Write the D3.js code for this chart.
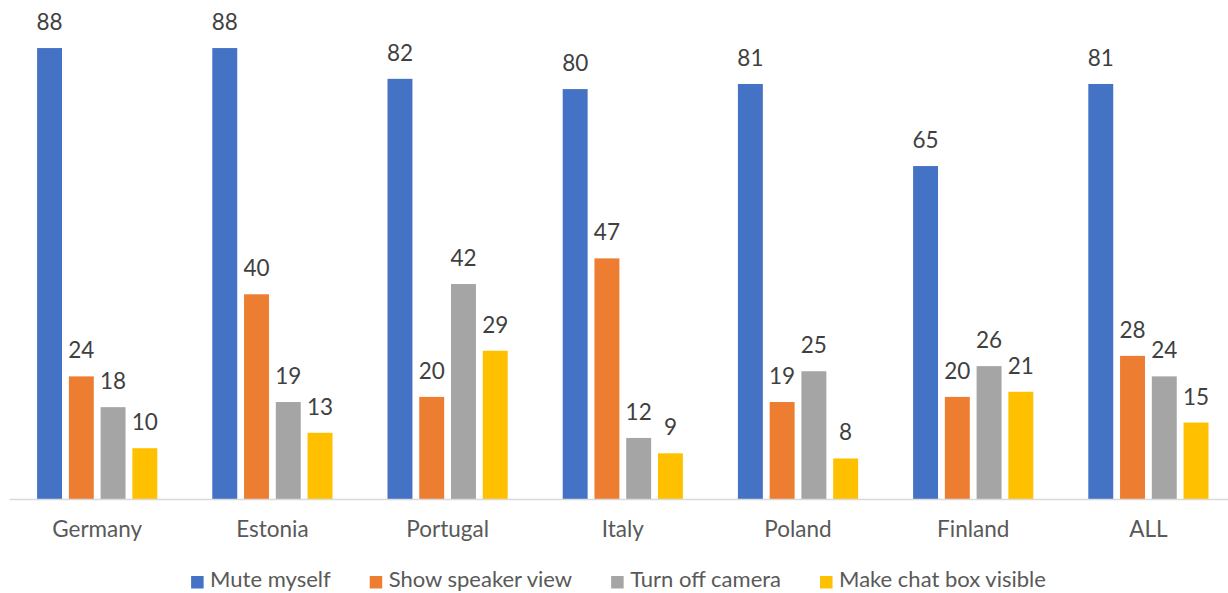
<!DOCTYPE html>
<html>
<head>
<meta charset="utf-8">
<script src="https://cdn.jsdelivr.net/npm/d3@7"></script>
<style>
  html, body { margin: 0; padding: 0; background: #fff; }
  svg { display: block; }
  text { font-family: Lato, "Open Sans", sans-serif; }
</style>
</head>
<body>
<svg id="chart" width="1228" height="593"></svg>
<script>
const categories = ["Germany", "Estonia", "Portugal", "Italy", "Poland", "Finland", "ALL"];
const seriesNames = ["Mute myself", "Show speaker view", "Turn off camera", "Make chat box visible"];
const muteMyself = [88, 88, 82, 80, 81, 65, 81];
const showSpeakerView = [24, 40, 20, 47, 19, 20, 28];
const turnOffCamera = [18, 19, 42, 12, 25, 26, 24];
const makeChatBoxVisible = [10, 13, 29, 9, 8, 21, 15];
const seriesValues = [muteMyself, showSpeakerView, turnOffCamera, makeChatBoxVisible];
const colors = ["#4472C4", "#ED7D31", "#A5A5A5", "#FFC000"];

const W = 1228, H = 593;
const svg = d3.select("#chart");

const x0 = d3.scaleBand().domain(categories).range([9.6, 1236]).paddingInner(0.314).paddingOuter(0.157);
const x1 = d3.scaleBand().domain(seriesNames).range([0, x0.bandwidth()]).paddingInner(0.215);
const y = d3.scaleLinear().domain([0, 100]).range([499.5, -13.5]);

// bars
const groups = svg.append("g").selectAll("g")
  .data(categories)
  .join("g")
  .attr("transform", c => `translate(${x0(c)},0)`);

groups.selectAll("rect")
  .data((c, i) => seriesNames.map((s, j) => ({ s, j, v: seriesValues[j][i] })))
  .join("rect")
  .attr("x", d => x1(d.s))
  .attr("width", x1.bandwidth())
  .attr("y", d => y(d.v))
  .attr("height", d => y(0) - y(d.v))
  .attr("fill", d => colors[d.j]);

groups.selectAll("text.val")
  .data((c, i) => seriesNames.map((s, j) => ({ s, j, v: seriesValues[j][i] })))
  .join("text")
  .attr("class", "val")
  .attr("x", d => x1(d.s) + x1.bandwidth() / 2)
  .attr("y", d => y(d.v) - 18)
  .attr("text-anchor", "middle")
  .attr("font-size", 22.5)
  .attr("fill", "#404040")
  .text(d => d.v);

// axis
const xAxis = d3.axisBottom(x0).tickSize(0).tickPadding(0);
const ax = svg.append("g").attr("transform", `translate(0,${y(0)})`).call(xAxis);
ax.select(".domain").attr("stroke", "#D9D9D9").attr("stroke-width", 1.5)
  .attr("d", `M9.6,0H1236`);
ax.selectAll(".tick text")
  .attr("y", 37)
  .attr("dy", 0)
  .attr("font-size", 22.5)
  .attr("font-family", "Lato, 'Open Sans', sans-serif")
  .attr("fill", "#595959");

// legend
const legend = svg.append("g");
const items = legend.selectAll("g").data(seriesNames).join("g");
items.append("rect").attr("width", 12.5).attr("height", 12.5).attr("y", 576)
  .attr("fill", (d, i) => colors[i]);
items.append("text").attr("x", 19).attr("y", 587)
  .attr("font-size", 22).attr("fill", "#595959").text(d => d);
let widths = [];
items.each(function () {
  widths.push(19 + d3.select(this).select("text").node().getComputedTextLength());
});
const gap = 39;
const total = d3.sum(widths) + gap * (widths.length - 1);
let cx = 618.5 - total / 2;
items.each(function (d, i) {
  d3.select(this).attr("transform", `translate(${cx},0)`);
  cx += widths[i] + gap;
});
</script>
</body>
</html>
